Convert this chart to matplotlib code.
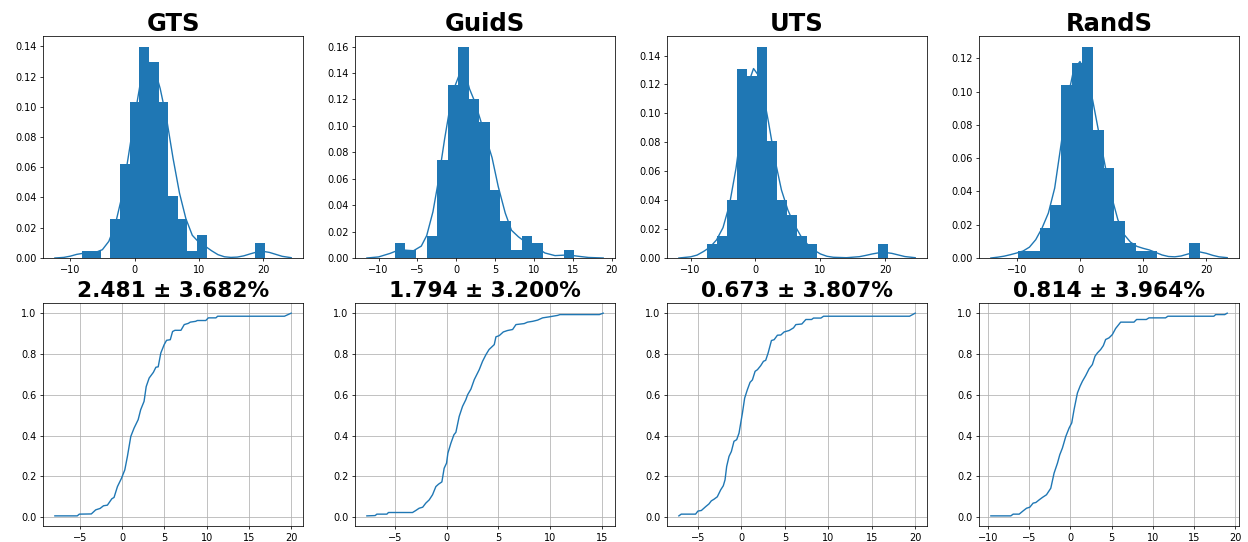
import matplotlib
matplotlib.use("Agg")
import matplotlib.pyplot as plt
import numpy as np

names = ["GTS", "GuidS", "UTS", "RandS"]
means = [2.481, 1.794, 0.673, 0.814]
stds = [3.682, 3.200, 3.807, 3.964]

# histogram bins (range and density heights)
hist_lo = [-8.25, -7.9, -7.53, -9.76]
hist_hi = [20.25, 15.2, 20.35, 18.94]
gts_hist = [0.0048, 0.0048, 0, 0.0259, 0.0621, 0.1034, 0.1398, 0.1293, 0.1034, 0.041,
            0.0259, 0.0048, 0.0154, 0, 0, 0, 0, 0, 0.0101]
guids_hist = [0.0115, 0.0058, 0, 0.017, 0.074, 0.131, 0.16, 0.12, 0.1026, 0.0514,
              0.0281, 0.0058, 0.017, 0.0115, 0, 0, 0.0058]
uts_hist = [0.0099, 0.0149, 0.0402, 0.1308, 0.1255, 0.1462, 0.0808, 0.0402, 0.0298, 0.0149,
            0.0099, 0, 0, 0, 0, 0, 0, 0.0099]
rands_hist = [0.0044, 0.0044, 0.0179, 0.0319, 0.1042, 0.1174, 0.127, 0.0767, 0.0538, 0.0223,
              0.009, 0.0044, 0.0044, 0, 0, 0, 0.009]

# kde curves
gts_kde_x = [-12.4, -11, -10, -9, -8, -7, -6, -5, -4, -3, -2, -1, 0, 1, 2, 3, 4, 5, 6, 7, 8,
             9, 10, 11, 12, 13, 14, 15, 16, 17, 18, 19, 20, 21, 22, 23, 24.4]
gts_kde_y = [0.0, 0.0004, 0.0012, 0.0024, 0.0031, 0.0035, 0.0038, 0.0055, 0.011, 0.022, 0.040,
             0.066, 0.093, 0.118, 0.130, 0.127, 0.112, 0.092, 0.066, 0.043, 0.026, 0.015,
             0.0105, 0.0078, 0.0048, 0.0022, 0.0008, 0.0004, 0.0006, 0.0014, 0.0027, 0.0039,
             0.0044, 0.0037, 0.0024, 0.0011, 0.0002]
guids_kde_x = [-11.5, -10, -8.5, -7.3, -6.3, -5.5, -4.5, -3.8, -3, -2.4, -1.5, -0.5, 0.6, 1.2,
               1.7, 2.4, 3.5, 4.6, 5.4, 6.3, 7.1, 8, 8.8, 10.1, 11.4, 12.7, 14.4, 15.7, 17, 18.9]
guids_kde_y = [0.0, 0.0008, 0.0035, 0.0063, 0.0058, 0.0055, 0.009, 0.017, 0.035, 0.055, 0.09,
               0.125, 0.142, 0.139, 0.128, 0.118, 0.097, 0.076, 0.054, 0.034, 0.021, 0.016,
               0.0125, 0.0088, 0.0038, 0.0018, 0.0023, 0.0013, 0.0004, 0.0]
uts_kde_x = [-11.8, -10, -9, -8, -7, -6, -5, -4, -3, -2, -1, -0.3, 0.5, 1, 2, 3, 4, 5, 6, 7, 8,
             9, 10, 11, 12, 14, 16, 17, 18, 19, 20, 21, 22, 23, 24.6]
uts_kde_y = [0.0, 0.0008, 0.002, 0.0045, 0.0075, 0.0125, 0.021, 0.037, 0.062, 0.095, 0.122,
             0.131, 0.126, 0.118, 0.094, 0.068, 0.047, 0.033, 0.023, 0.015, 0.0095, 0.0055,
             0.0028, 0.0012, 0.0005, 0.0002, 0.0009, 0.0018, 0.0028, 0.0036, 0.0038, 0.0032,
             0.0021, 0.001, 0.0002]
rands_kde_x = [-14.1, -13, -12, -11, -10, -9, -8, -7, -6, -5, -4, -3, -2, -1, 0, 1, 2, 3, 4, 5,
               6, 7, 8, 9, 10, 11, 12, 13, 14, 15, 16, 17, 18, 19, 20, 21, 22, 23.3]
rands_kde_y = [0.0, 0.0005, 0.0011, 0.002, 0.003, 0.0042, 0.0065, 0.011, 0.018, 0.027, 0.042,
               0.068, 0.095, 0.113, 0.118, 0.111, 0.095, 0.075, 0.055, 0.037, 0.023, 0.014,
               0.0095, 0.007, 0.0058, 0.0048, 0.0033, 0.0018, 0.0009, 0.0007, 0.0012, 0.0023,
               0.0033, 0.0036, 0.0028, 0.0016, 0.0007, 0.0002]

# cumulative curves
gts_cdf_x = [-7.95, -5.3, -5.06, -3.64, -3.12, -2.6, -2.2, -1.74, -1.22, -0.95, -0.55, -0.08,
             0.32, 0.63, 1.03, 1.42, 1.9, 2.2, 2.6, 2.85, 3.2, 3.7, 4.0, 4.27, 4.58, 4.98, 5.26,
             5.7, 5.97, 6.25, 6.96, 7.35, 7.83, 8.06, 8.7, 8.9, 9.9, 10.2, 11.1, 11.3, 19.2, 20.0]
gts_cdf_y = [0.0065, 0.0065, 0.015, 0.016, 0.036, 0.043, 0.056, 0.059, 0.09, 0.097, 0.15, 0.19,
             0.232, 0.298, 0.396, 0.437, 0.478, 0.527, 0.568, 0.64, 0.682, 0.71, 0.735, 0.737,
             0.805, 0.846, 0.867, 0.87, 0.91, 0.916, 0.916, 0.944, 0.95, 0.956, 0.96, 0.964,
             0.964, 0.977, 0.977, 0.985, 0.985, 1.0]
guids_cdf_x = [-7.68, -6.88, -6.72, -5.75, -5.6, -3.28, -2.96, -2.64, -2.3, -2.0, -1.67, -1.35,
               -1.03, -0.77, -0.45, -0.23, 0.0, 0.13, 0.42, 0.71, 0.9, 1.22, 1.54, 1.86, 2.03,
               2.35, 2.67, 3.15, 3.47, 3.8, 4.1, 4.6, 4.76, 5.08, 5.47, 5.88, 6.37, 6.69, 7.49,
               7.8, 8.3, 8.78, 9.26, 9.9, 10.7, 10.93, 14.73, 15.1]
guids_cdf_y = [0.0065, 0.008, 0.015, 0.015, 0.023, 0.023, 0.033, 0.044, 0.049, 0.069, 0.085,
               0.11, 0.15, 0.162, 0.173, 0.24, 0.265, 0.314, 0.363, 0.404, 0.416, 0.494, 0.543,
               0.576, 0.6, 0.628, 0.674, 0.723, 0.764, 0.797, 0.822, 0.846, 0.884, 0.89, 0.908,
               0.915, 0.92, 0.944, 0.949, 0.956, 0.96, 0.966, 0.977, 0.982, 0.989, 0.993, 0.993,
               1.0]
uts_cdf_x = [-7.19, -6.92, -5.27, -5.0, -4.6, -4.1, -3.73, -3.46, -3.15, -2.77, -2.38, -2.08,
             -1.88, -1.69, -1.42, -1.15, -0.85, -0.54, -0.27, -0.08, 0.12, 0.38, 0.69, 1.0, 1.27,
             1.58, 1.85, 2.23, 2.54, 2.8, 3.08, 3.46, 3.77, 4.15, 4.54, 4.92, 5.5, 6.0, 6.27,
             6.96, 7.42, 8.08, 8.3, 9.15, 9.46, 19.35, 20.0]
uts_cdf_y = [0.0065, 0.015, 0.015, 0.03, 0.033, 0.052, 0.065, 0.08, 0.088, 0.1, 0.134, 0.154,
             0.183, 0.249, 0.298, 0.322, 0.372, 0.38, 0.412, 0.46, 0.51, 0.584, 0.625, 0.661,
             0.673, 0.715, 0.723, 0.743, 0.764, 0.769, 0.805, 0.866, 0.87, 0.892, 0.893, 0.908,
             0.915, 0.928, 0.944, 0.947, 0.969, 0.969, 0.976, 0.976, 0.985, 0.985, 1.0]
rands_cdf_x = [-9.64, -7.22, -6.94, -6.21, -5.73, -5.32, -4.92, -4.52, -4.19, -3.79, -3.39,
               -2.9, -2.38, -1.98, -1.57, -1.29, -0.97, -0.56, -0.16, 0.16, 0.44, 0.85, 1.17,
               1.45, 1.85, 2.26, 2.66, 2.98, 3.27, 3.67, 3.99, 4.27, 4.68, 5.08, 5.48, 6.09, 7.7,
               8.02, 9.2, 9.52, 11.53, 11.81, 17.38, 17.6, 18.7, 19.0]
rands_cdf_y = [0.0065, 0.0065, 0.015, 0.015, 0.031, 0.044, 0.049, 0.069, 0.072, 0.085, 0.097,
               0.11, 0.142, 0.216, 0.265, 0.306, 0.339, 0.396, 0.437, 0.462, 0.527, 0.609, 0.642,
               0.666, 0.694, 0.727, 0.748, 0.789, 0.805, 0.822, 0.841, 0.871, 0.879, 0.895,
               0.925, 0.956, 0.956, 0.969, 0.969, 0.977, 0.977, 0.985, 0.985, 0.993, 0.993, 1.0]

hists = [gts_hist, guids_hist, uts_hist, rands_hist]
kdes = [(gts_kde_x, gts_kde_y), (guids_kde_x, guids_kde_y),
        (uts_kde_x, uts_kde_y), (rands_kde_x, rands_kde_y)]
cdfs = [(gts_cdf_x, gts_cdf_y), (guids_cdf_x, guids_cdf_y),
        (uts_cdf_x, uts_cdf_y), (rands_cdf_x, rands_cdf_y)]

plt.rcParams.update({
    "font.size": 7,
    "axes.linewidth": 0.55,
    "xtick.major.size": 2.4, "ytick.major.size": 2.4,
    "xtick.major.width": 0.55, "ytick.major.width": 0.55,
    "xtick.major.pad": 2.4, "ytick.major.pad": 2.4,
    "grid.linewidth": 0.55,
})

blue = "#1f77b4"
fig = plt.figure(figsize=(12.48, 5.42), dpi=100)
lefts = [0.0345, 0.2845, 0.5345, 0.7845]

for i in range(4):
    # top: histogram + kde
    ax = fig.add_axes([lefts[i], 0.524, 0.2083, 0.4096])
    edges = np.linspace(hist_lo[i], hist_hi[i], len(hists[i]) + 1)
    ax.bar(edges[:-1], hists[i], width=np.diff(edges), align="edge", color=blue, linewidth=0)
    ax.plot(kdes[i][0], kdes[i][1], color=blue, lw=1.0)
    ax.set_title(names[i], fontsize=17.5, fontweight="bold", pad=3.5)

    # bottom: cumulative
    ax2 = fig.add_axes([lefts[i], 0.0295, 0.2083, 0.4114])
    ax2.plot(cdfs[i][0], cdfs[i][1], color=blue, lw=1.0)
    ax2.grid(True)
    ax2.set_title(f"{means[i]:.3f} \u00b1 {stds[i]:.3f}%", fontsize=15.6, fontweight="bold", pad=4)

fig.savefig("out.png", dpi=100)
